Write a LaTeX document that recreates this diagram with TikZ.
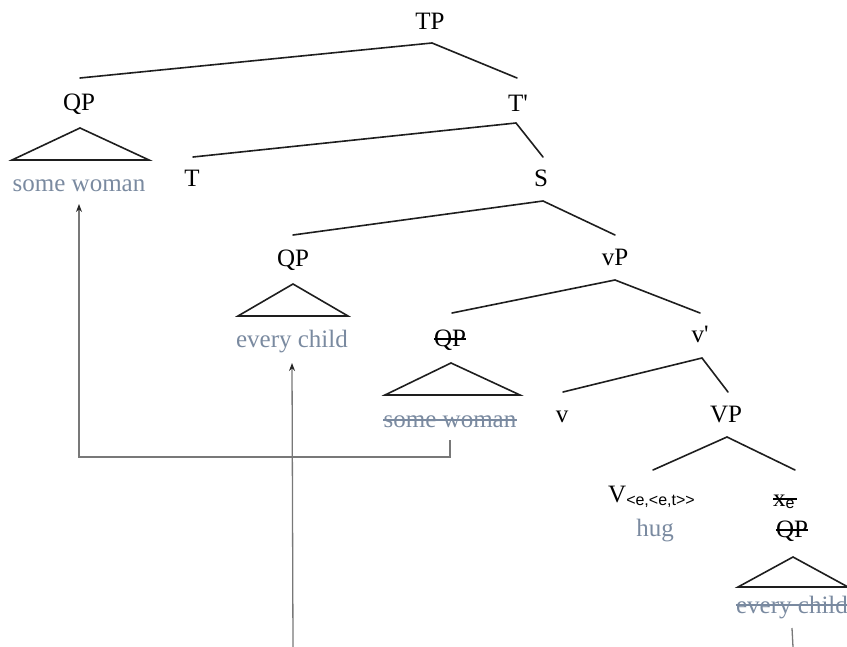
\documentclass[tikz,border=0pt]{standalone}
\usepackage{fontspec}
\setmainfont{Liberation Serif}
\newfontfamily\subfont{Liberation Sans}
\newfontfamily\primefont{Liberation Serif}
\usetikzlibrary{arrows.meta}
\definecolor{leaf}{RGB}{122,138,160}
\definecolor{branch}{RGB}{30,30,30}
\definecolor{trace}{RGB}{120,120,120}
\newcommand{\typesub}[1]{{\subfont\fontsize{16}{18}\selectfont #1}}
\newcommand{\barmark}{{\primefont'}}
\begin{document}
\begin{tikzpicture}[x=1pt,y=-1pt,
  lab/.style={anchor=base,inner sep=0pt,font=\fontsize{25}{29}\selectfont,text=black},
  leaflab/.style={lab,text=leaf},
  br/.style={draw=branch,line width=1.6pt,line cap=round},
  tri/.style={draw=branch,line width=1.6pt,line join=miter},
  mv/.style={draw=trace,line width=1.3pt},
  mvarrow/.style={mv,-{Stealth[length=8pt,width=6pt,color=black!85]}},
  strikeline/.style={line width=1.1pt}]
\useasboundingbox (0,0) rectangle (847,647);

% labels
\node[lab] (TP) at (430,30) {TP};
\node[lab] (QPa) at (79,111) {QP};
\node[lab] (Tbar) at (518,112) {T\barmark};
\node[leaflab] (swa) at (79,192) {some woman};
\node[lab] (T) at (192,187) {T};
\node[lab] (S) at (541,187) {S};
\node[lab] (QPb) at (293,267) {QP};
\node[lab] (vP) at (615,266) {vP};
\node[leaflab] (eca) at (292,348) {every child};
\node[lab] (QPc) at (450,347) {QP};
\node[lab] (vbar) at (700,343) {v\barmark};
\node[leaflab] (swb) at (450,427) {some woman};
\node[lab] (v) at (562,422) {v};
\node[lab] (VP) at (726,422) {VP};
\node[lab,anchor=base west] (V) at (608,502) {V\raisebox{-3pt}{\typesub{<e,<e,t>>}}};
\node[leaflab] (hug) at (655,536) {hug};
\node[lab,anchor=base west] (xe) at (773,506) {x\raisebox{-2pt}{\typesub{e}}};
\node[lab] (QPd) at (792,537) {QP};
\node[leaflab] (ecb) at (792,613) {every child};

% struck-out copies
\draw[strikeline,black] ([yshift=8pt]QPc.base west) -- ([yshift=8pt]QPc.base east);
\draw[strikeline,leaf] ([yshift=7pt]swb.base west) -- ([yshift=7pt]swb.base east);
\draw[strikeline,black] ([yshift=7pt]xe.base west) -- ([shift={(2pt,7pt)}]xe.base east);
\draw[strikeline,black] ([yshift=7pt]QPd.base west) -- ([yshift=7pt]QPd.base east);
\draw[strikeline,leaf] ([yshift=8pt]ecb.base west) -- ([yshift=8pt]ecb.base east);

% branch points
\coordinate (TPtop) at (432,43);  \coordinate (TPl) at (80,78);   \coordinate (TPr) at (517,78);
\coordinate (Ttop) at (516,123);  \coordinate (Tl) at (193,157);  \coordinate (Tr) at (543,157);
\coordinate (Stop) at (543,201);  \coordinate (Sl) at (293,235);  \coordinate (Sr) at (615,235);
\coordinate (vPtop) at (615,280); \coordinate (vPl) at (452,313); \coordinate (vPr) at (700,313);
\coordinate (vbtop) at (702,358); \coordinate (vbl) at (563,392); \coordinate (vbr) at (728,392);
\coordinate (VPtop) at (727,437); \coordinate (VPl) at (653,470); \coordinate (VPr) at (795,470);

\draw[br] (TPl) -- (TPtop) -- (TPr);
\draw[br] (Tl) -- (Ttop) -- (Tr);
\draw[br] (Sl) -- (Stop) -- (Sr);
\draw[br] (vPl) -- (vPtop) -- (vPr);
\draw[br] (vbl) -- (vbtop) -- (vbr);
\draw[br] (VPl) -- (VPtop) -- (VPr);

% triangles over the QP leaves
\draw[tri] (12,160) -- (80,128) -- (149,160) -- cycle;
\draw[tri] (238,316) -- (293,284) -- (348,316) -- cycle;
\draw[tri] (385,395) -- (451,363) -- (520,395) -- cycle;
\draw[tri] (738,587) -- (793,557) -- (848,587) -- cycle;

% movement paths
\coordinate (lowA) at (293,647);
\coordinate (lowB) at (793,647);
\draw[mvarrow] ([yshift=-13pt]swb.base) -- ++(0,17) -| ([yshift=-12pt]swa.base);
\draw[mvarrow] (lowA) -- ([yshift=-15pt]eca.base);
\draw[mv] ([yshift=-15pt]ecb.base) -- (lowB);
\end{tikzpicture}
\end{document}
